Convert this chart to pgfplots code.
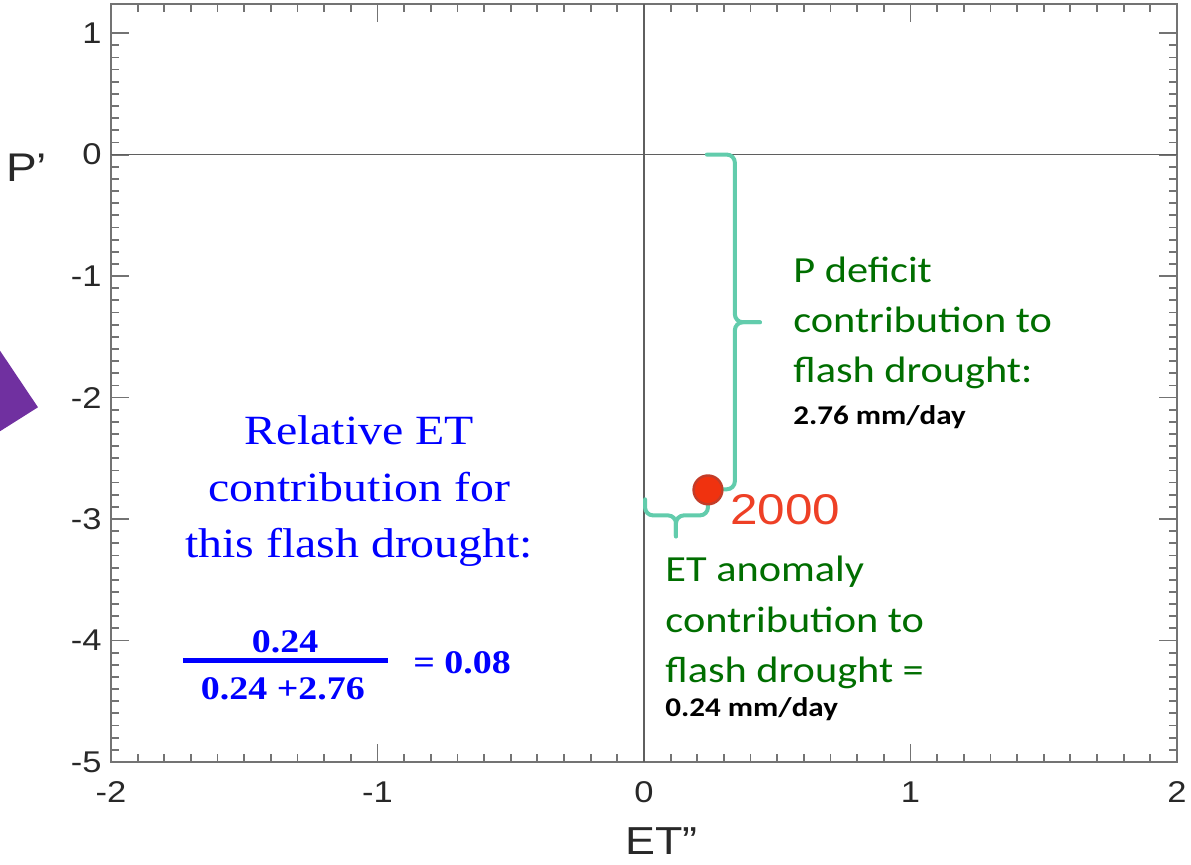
\documentclass[border=0pt]{standalone}
\usepackage{fontspec}
\setmainfont[FakeStretch=1.15]{Liberation Sans}
\newfontfamily\calib[FakeStretch=1.15]{Carlito}
\newfontfamily\timesf[FakeStretch=1.15]{Liberation Serif}
\usepackage{pgfplots}
\pgfplotsset{compat=1.18}
\definecolor{axgray}{RGB}{115,115,115}
\definecolor{zerogray}{RGB}{95,95,95}
\definecolor{ticklab}{RGB}{40,40,40}
\definecolor{bracec}{RGB}{98,204,172}
\definecolor{dgreen}{RGB}{0,110,0}
\definecolor{ptred}{RGB}{240,50,15}
\definecolor{ptedge}{RGB}{195,60,40}
\definecolor{purp}{RGB}{112,48,160}
\definecolor{lblred}{RGB}{238,64,38}
\definecolor{tblue}{RGB}{0,0,255}
\begin{document}
\begin{tikzpicture}
\begin{axis}[
  scale only axis, width=533pt, height=379pt,
  xmin=-2, xmax=2, ymin=-5, ymax=1.24,
  xtick={-2,-1,0,1,2}, ytick={-5,-4,-3,-2,-1,0,1},
  minor x tick num=9, minor y tick num=9,
  tick align=inside, major tick length=9pt, minor tick length=4pt,
  axis line style={axgray, line width=1pt},
  every tick/.style={axgray, line width=0.9pt},
  tick label style={font=\fontsize{15}{18}\selectfont, color=ticklab},
  /pgf/number format/assume math mode=true,
  xticklabel style={inner sep=0pt, yshift=-9.5pt},
  yticklabel style={inner sep=0pt, xshift=-4.5pt},
  clip=false,
]
\coordinate (BL) at (rel axis cs:0,0);
% zero lines
\draw[zerogray, line width=0.7pt] (axis cs:-2,0) -- (axis cs:2,0);
\draw[zerogray, line width=0.7pt] (axis cs:0,-5) -- (axis cs:0,1.24);
% data point
\addplot[only marks, mark=*, mark size=7.2pt, mark options={fill=ptred, draw=ptedge, line width=1.2pt}] coordinates {(0.24,-2.76)};
% braces
\draw[bracec, line width=2pt, rounded corners=4pt, line cap=round] (axis cs:0.236,0) -- (axis cs:0.341,0) -- (axis cs:0.341,-1.38) -- (axis cs:0.435,-1.38);
\draw[bracec, line width=2pt, rounded corners=4pt, line cap=round] (axis cs:0.435,-1.38) -- (axis cs:0.341,-1.38) -- (axis cs:0.341,-2.755) -- (axis cs:0.236,-2.755);
\draw[bracec, line width=2pt, rounded corners=4pt, line cap=round] (axis cs:0.004,-2.838) -- (axis cs:0.004,-2.97) -- (axis cs:0.120,-2.97) -- (axis cs:0.120,-3.143);
\draw[bracec, line width=2pt, rounded corners=4pt, line cap=round] (axis cs:0.120,-3.143) -- (axis cs:0.120,-2.97) -- (axis cs:0.240,-2.97) -- (axis cs:0.240,-2.838);
% point label
\node[anchor=base west, inner sep=0pt, text=lblred, font=\fontsize{21.5}{24}\selectfont] at (axis cs:0.323,-3.044) {2000};
% green annotations
\node[anchor=base west, inner sep=0pt, text=dgreen, font=\calib\fontsize{18.4}{22}\selectfont] at (axis cs:0.559,-1.050) {P deficit};
\node[anchor=base west, inner sep=0pt, text=dgreen, font=\calib\fontsize{18.4}{22}\selectfont] at (axis cs:0.559,-1.462) {contribution to};
\node[anchor=base west, inner sep=0pt, text=dgreen, font=\calib\fontsize{18.4}{22}\selectfont] at (axis cs:0.559,-1.874) {flash drought:};
\node[anchor=base west, inner sep=0pt, text=black, font=\calib\bfseries\fontsize{13.5}{16}\selectfont] at (axis cs:0.559,-2.220) {2.76 mm/day};
\node[anchor=base west, inner sep=0pt, text=dgreen, font=\calib\fontsize{18.4}{22}\selectfont] at (axis cs:0.079,-3.513) {ET anomaly};
\node[anchor=base west, inner sep=0pt, text=dgreen, font=\calib\fontsize{18.4}{22}\selectfont] at (axis cs:0.079,-3.934) {contribution to};
\node[anchor=base west, inner sep=0pt, text=dgreen, font=\calib\fontsize{18.4}{22}\selectfont] at (axis cs:0.079,-4.345) {flash drought =};
\node[anchor=base west, inner sep=0pt, text=black, font=\calib\bfseries\fontsize{13.5}{16}\selectfont] at (axis cs:0.079,-4.625) {0.24 mm/day};
% blue annotation
\node[anchor=base, inner sep=0pt, text=tblue, font=\timesf\fontsize{20.8}{24}\selectfont] at (axis cs:-1.069,-2.385) {Relative ET};
\node[anchor=base, inner sep=0pt, text=tblue, font=\timesf\fontsize{20.8}{24}\selectfont] at (axis cs:-1.069,-2.854) {contribution for};
\node[anchor=base, inner sep=0pt, text=tblue, font=\timesf\fontsize{20.8}{24}\selectfont] at (axis cs:-1.069,-3.316) {this flash drought:};
\node[anchor=base, inner sep=0pt, text=tblue, font=\timesf\bfseries\fontsize{16.5}{19}\selectfont] at (axis cs:-1.347,-4.098) {0.24};
\draw[tblue, line width=2.2pt] (axis cs:-1.730,-4.164) -- (axis cs:-0.961,-4.164);
\node[anchor=base, inner sep=0pt, text=tblue, font=\timesf\bfseries\fontsize{16.5}{19}\selectfont] at (axis cs:-1.355,-4.485) {0.24 +2.76};
\node[anchor=base west, inner sep=0pt, text=tblue, font=\timesf\bfseries\fontsize{16.5}{19}\selectfont] at (axis cs:-0.867,-4.271) {= 0.08};
% purple arrow fragment
\fill[purp] (axis cs:-2.43,-1.57) -- (axis cs:-2.274,-2.080) -- (axis cs:-2.43,-2.296) -- cycle;
% axis labels
\node[anchor=base west, inner sep=0pt, text=ticklab, font=\fontsize{20}{24}\selectfont] at (axis cs:-2.395,-0.218) {P’};
\node[anchor=base west, inner sep=0pt, text=ticklab, font=\fontsize{19.5}{23}\selectfont] at (axis cs:-0.071,-5.763) {ET”};
\end{axis}
\pgfresetboundingbox
\path ([shift={(-55.5pt,-51.5pt)}]BL) rectangle ([shift={(540pt,381pt)}]BL);
\end{tikzpicture}
\end{document}
